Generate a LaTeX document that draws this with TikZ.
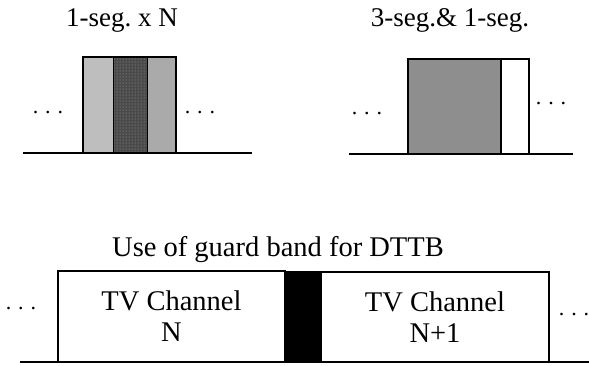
\documentclass[tikz,border=0pt]{standalone}
\usepackage{fontspec}
\setmainfont{Liberation Serif}
\usetikzlibrary{patterns}
\definecolor{lightstripe}{HTML}{BEBEBE}
\definecolor{darkstripe}{HTML}{4A4A4A}
\definecolor{midstripe}{HTML}{AAAAAA}
\definecolor{segbox}{HTML}{8E8E8E}
\tikzset{
  lbl/.style={inner sep=0pt, font=\fontsize{27}{31}\selectfont},
  biglbl/.style={inner sep=0pt, font=\fontsize{28.5}{32}\selectfont},
  ell/.style={inner sep=0pt, font=\fontsize{22}{26}\selectfont},
  base/.style={line width=1.4pt},
  band/.style={draw, line width=1.3pt},
}
\newcommand{\spdots}{.\hspace{7pt}.\hspace{7pt}.}
\frenchspacing
\begin{document}
\begin{tikzpicture}[x=1pt,y=-1pt]
\useasboundingbox (0,0) rectangle (589,365);
% ---- top left: 1-seg x N
\node[lbl] (t1) at (122,20) {1-seg. x N};
\draw[base] (23,153) coordinate (l1a) -- (252,153) coordinate (l1b);
\fill[lightstripe] (83,57) rectangle (113,153);
\fill[darkstripe] (113,57) rectangle (147,153);
\fill[pattern=dots, pattern color=gray!70] (113,57) rectangle (147,153);
\fill[midstripe] (147,57) rectangle (176,153);
\draw[line width=1pt] (113,57) -- (113,153) (147,57) -- (147,153);
\node[draw, line width=1.2pt, minimum width=93pt, minimum height=96pt, inner sep=0pt] (b1) at (129.5,105) {};
\node[ell] (d1) at (48,113) {\spdots};
\node[ell] (d2) at (200,113) {\spdots};
% ---- top right: 3-seg & 1-seg
\node[lbl] (t2) at (450,20) {3-seg.\& 1-seg.};
\draw[base] (349,154) coordinate (l2a) -- (573,154) coordinate (l2b);
\node[band, fill=segbox, minimum width=93pt, minimum height=95pt, inner sep=0pt] (g1) at (454.5,106.5) {};
\node[band, fill=white, minimum width=28pt, minimum height=95pt, inner sep=0pt] (w1) at (515,106.5) {};
\node[ell] (d3) at (367,114) {\spdots};
\node[ell] (d4) at (551,104) {\spdots};
% ---- bottom: guard band
\node[biglbl] (t3) at (278,250) {Use of guard band for DTTB};
\draw[base] (20,362) coordinate (l3a) -- (589,362) coordinate (l3b);
\node[band, minimum width=227pt, minimum height=91pt, inner sep=0pt, align=center, font=\fontsize{28.5}{31}\selectfont] (c1) at (171.5,316.5) {TV Channel\\N};
\fill[black] (285,271) rectangle (321,362);
\node[band, minimum width=228pt, minimum height=90pt, inner sep=0pt, align=center, font=\fontsize{28.5}{31}\selectfont] (c2) at (435,317) {TV Channel\\N+1};
\node[ell] (d5) at (21,309) {\spdots};
\node[ell] (d6) at (574,315) {\spdots};
\end{tikzpicture}
\end{document}
